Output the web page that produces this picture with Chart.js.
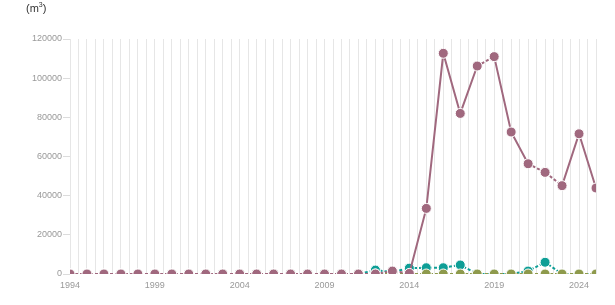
<!DOCTYPE html>
<html>
<head>
<meta charset="utf-8">
<script src="https://cdn.jsdelivr.net/npm/chart.js@4"></script>
<style>
    html, body { margin: 0; padding: 0; background: #fff; }
    #wrap { position: relative; width: 615px; height: 305px; }
    #unit {
        position: absolute; left: 26px; top: 1px;
        font: 11px "Liberation Sans", Arial, sans-serif; color: #333;
    }
    #unit sup { font-size: 7px; }
</style>
</head>
<body>
<div id="wrap">
    <div id="unit">(m<sup>3</sup>)</div>
    <canvas id="chart" width="615" height="305"></canvas>
</div>
<script>
// Years on the x axis
const years = [
    1994, 1995, 1996, 1997, 1998, 1999, 2000, 2001, 2002, 2003, 2004,
    2005, 2006, 2007, 2008, 2009, 2010, 2011, 2012, 2013, 2014, 2015,
    2016, 2017, 2018, 2019, 2020, 2021, 2022, 2023, 2024, 2025
];

// Purple series (main volume)
const seriesA = [
    0, 0, 0, 0, 0, 0, 0, 0, 0, 0, 0,
    0, 0, 0, 0, 0, 0, 0, 0, 1500, 300, 33500,
    112700, 82000, 106200, 111000, 72500, 56300, 51900, 45100, 71600, 43900
];

// Teal series
const seriesB = [
    0, 0, 0, 0, 0, 0, 0, 0, 0, 0, 0,
    0, 0, 0, 0, 0, 0, 0, 2000, 1000, 3000, 3200,
    3200, 4600, 0, 0, 0, 1500, 6000, 0, 0, 0
];

// Olive series
const seriesC = [
    0, 0, 0, 0, 0, 0, 0, 0, 0, 0, 0,
    0, 0, 0, 0, 0, 0, 0, 0, 0, 0, 0,
    0, 0, 0, 0, 0, 0, 0, 0, 0, 0
];

const yTicks = [0, 20000, 40000, 60000, 80000, 100000, 120000];
const xLabelYears = [1994, 1999, 2004, 2009, 2014, 2019, 2024];

const toPoints = vals => years.map((y, i) => ({ x: y, y: vals[i] }));

// short segments are drawn dashed, long ones solid
const shortDash = ctx => {
    const d = Math.hypot(ctx.p1.x - ctx.p0.x, ctx.p1.y - ctx.p0.y);
    return d < 30 ? [3, 2] : undefined;
};

function lineSet(data, color, width) {
    return {
        data: toPoints(data),
        borderColor: color,
        backgroundColor: color,
        borderWidth: width,
        pointRadius: 5,
        pointBorderWidth: 1,
        pointBorderColor: '#fff',
        pointBackgroundColor: color,
        tension: 0,
        fill: false,
        segment: { borderDash: shortDash }
    };
}

const tickFont = { family: '"Liberation Sans", Arial, sans-serif', size: 9 };

new Chart(document.getElementById('chart'), {
    type: 'line',
    data: {
        datasets: [
            lineSet(seriesA, '#a0687e', 2),
            lineSet(seriesC, '#8e9a4c', 2),
            lineSet(seriesB, '#0e9e96', 2)
        ]
    },
    options: {
        responsive: false,
        animation: false,
        layout: { padding: { top: 39, right: 19, bottom: 11, left: 0 } },
        plugins: {
            legend: { display: false },
            tooltip: { enabled: false }
        },
        scales: {
            x: {
                type: 'linear',
                min: 1994,
                max: 2025,
                afterFit: s => { s.height = 20; },
                grid: { color: '#e6e6e6', drawTicks: false },
                border: { display: false },
                ticks: {
                    stepSize: 0.5,
                    autoSkip: false,
                    maxTicksLimit: 1000,
                    maxRotation: 0,
                    padding: 6,
                    color: '#999',
                    font: tickFont,
                    callback: v => xLabelYears.includes(v) ? String(v) : ''
                }
            },
            y: {
                min: 0,
                max: 120000,
                afterFit: s => { s.width = 70; },
                afterBuildTicks: s => { s.ticks = yTicks.map(v => ({ value: v })); },
                grid: { drawOnChartArea: false, tickLength: 7, color: '#dcdcdc' },
                border: { display: false },
                ticks: {
                    padding: 1,
                    color: '#999',
                    font: tickFont,
                    callback: v => String(v)
                }
            }
        }
    }
});
</script>
</body>
</html>
